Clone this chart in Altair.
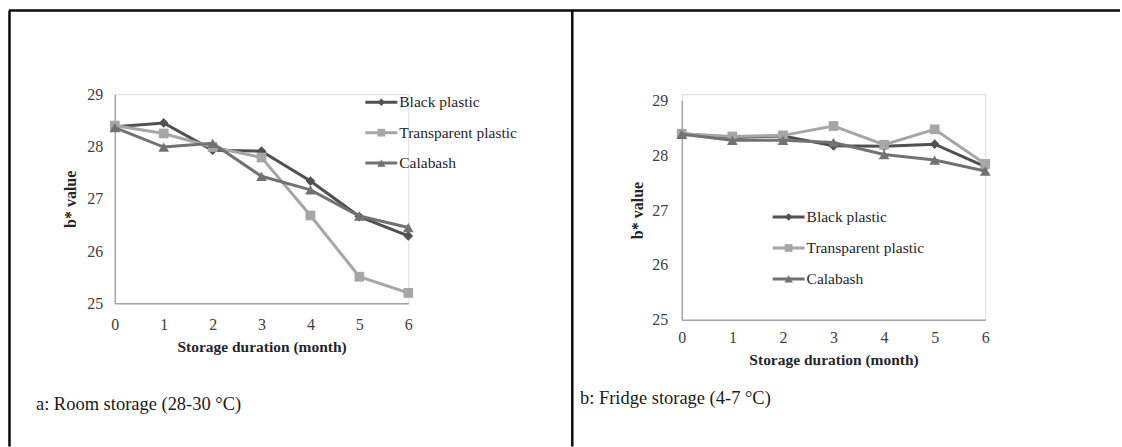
import altair as alt
import pandas as pd

# ---------------- data ----------------
months = [0, 1, 2, 3, 4, 5, 6]
series_names = ["Black plastic", "Transparent plastic", "Calabash"]
y_ticks = [25, 26, 27, 28, 29]

room_black = [28.38, 28.45, 27.93, 27.91, 27.34, 26.66, 26.29]
room_transparent = [28.40, 28.25, 27.99, 27.79, 26.68, 25.51, 25.20]
room_calabash = [28.36, 27.99, 28.06, 27.43, 27.17, 26.67, 26.45]

fridge_black = [28.39, 28.32, 28.35, 28.17, 28.16, 28.20, 27.79]
fridge_transparent = [28.39, 28.34, 28.36, 28.53, 28.19, 28.47, 27.84]
fridge_calabash = [28.38, 28.27, 28.27, 28.23, 28.01, 27.91, 27.71]

x_title = "Storage duration (month)"
y_title = "b* value"
caption_a = "a: Room storage (28-30 °C)"
caption_b = "b: Fridge storage (4-7 °C)"

# ---------------- style ----------------
FONT = "Liberation Serif"
colors = ["#505050", "#a6a6a6", "#727272"]
shapes = ["diamond", "square", "triangle-up"]
sizes = [95, 95, 115]
legend_sizes = [55, 60, 70]


def long_df(cols):
    rows = []
    for name, vals in zip(series_names, cols):
        for m, v in zip(months, vals):
            rows.append({"month": m, "b": v, "series": name})
    return pd.DataFrame(rows)


def one(**kw):
    return pd.DataFrame([kw if kw else {"k": 0}])


def make_panel(df, width, height, yrange, xlabpad, xtitlepad, ylabpad, ytitlepad,
               leg_x, leg_y, leg_dy, cap_text, cap_x, cap_y, borders):
    yscale = alt.Scale(domain=[25, 29], nice=False, zero=False)
    if yrange is not None:
        yscale = alt.Scale(domain=[25, 29], nice=False, zero=False, range=yrange)
    x = alt.X("month:Q", scale=alt.Scale(domain=[0, 6], nice=False),
              axis=alt.Axis(values=months, format="d", title=x_title, grid=False,
                            ticks=False, domain=True, domainColor="#a6a6a6",
                            domainWidth=1.5, labelFlush=False, labelFont=FONT,
                            labelFontSize=16, labelColor="#404040",
                            labelPadding=xlabpad, titleFont=FONT, titleFontSize=15.5,
                            titleFontWeight="bold", titleColor="#262626",
                            titlePadding=xtitlepad))
    y = alt.Y("b:Q", scale=yscale,
              axis=alt.Axis(values=y_ticks, format="d", title=y_title, grid=False,
                            ticks=False, domain=True, domainColor="#a6a6a6",
                            domainWidth=1.5, labelFlush=False, labelFont=FONT,
                            labelFontSize=16, labelColor="#404040",
                            labelPadding=ylabpad, titleFont=FONT, titleFontSize=16,
                            titleFontWeight="bold", titleColor="#262626",
                            titlePadding=ytitlepad))
    layers = []
    for name, c, s, sz in zip(series_names, colors, shapes, sizes):
        base = alt.Chart(df).transform_filter(alt.datum.series == name)
        layers.append(base.mark_line(color=c, strokeWidth=3).encode(x=x, y=y))
        layers.append(base.mark_point(filled=True, color=c, shape=s, size=sz,
                                      opacity=1).encode(x=x, y=y))
    # legend
    for i, (name, c, s, sz) in enumerate(zip(series_names, colors, shapes, legend_sizes)):
        ly = leg_y + i * leg_dy
        d = one(name=name)
        layers.append(alt.Chart(d).mark_rule(color=c, strokeWidth=3).encode(
            x=alt.value(leg_x), x2=alt.value(leg_x + 32), y=alt.value(ly)))
        layers.append(alt.Chart(d).mark_point(filled=True, color=c, shape=s, size=sz,
                                              opacity=1).encode(
            x=alt.value(leg_x + 16), y=alt.value(ly)))
        layers.append(alt.Chart(d).mark_text(align="left", baseline="middle", font=FONT,
                                             fontSize=15.5, color="#262626").encode(
            x=alt.value(leg_x + 34), y=alt.value(ly), text="name:N"))
    # caption
    layers.append(alt.Chart(one(t=cap_text)).mark_text(
        align="left", baseline="middle", font=FONT, fontSize=18.5, color="#1a1a1a").encode(
        x=alt.value(cap_x), y=alt.value(cap_y), text="t:N"))
    # frame
    for (x1, x2, y1, y2) in borders:
        layers.append(alt.Chart(one()).mark_rule(color="#0a0a0a", strokeWidth=2.5).encode(
            x=alt.value(x1), x2=alt.value(x2), y=alt.value(y1), y2=alt.value(y2)))
    return alt.layer(*layers).properties(width=width, height=height)


# panel a: plot origin at (114, 93)
panel_a = make_panel(
    long_df([room_black, room_transparent, room_calabash]),
    width=294, height=209.5, yrange=None,
    xlabpad=13, xtitlepad=7, ylabpad=12, ytitlepad=8,
    leg_x=251, leg_y=8, leg_dy=30.5,
    cap_text=caption_a, cap_x=-79, cap_y=310,
    borders=[(-106, 459, -84, -84), (-105.5, -105.5, -84, 353), (458.3, 458.3, -84, 353)],
)

# panel b: plot origin at (682, 93)
panel_b = make_panel(
    long_df([fridge_black, fridge_transparent, fridge_calabash]),
    width=304, height=226, yrange=[226, 6],
    xlabpad=10, xtitlepad=7, ylabpad=14, ytitlepad=6,
    leg_x=91, leg_y=123, leg_dy=31,
    cap_text=caption_b, cap_x=-102, cap_y=304,
    borders=[(-109, 439, -84, -84)],
)

chart = alt.hconcat(panel_a, panel_b, spacing=274, bounds="flush").properties(
    padding={"left": 7, "top": 8, "right": 0, "bottom": 0}
).configure_view(stroke=None).configure(background="white")

chart.save("out.html", embed_options={"renderer": "svg", "actions": False})
